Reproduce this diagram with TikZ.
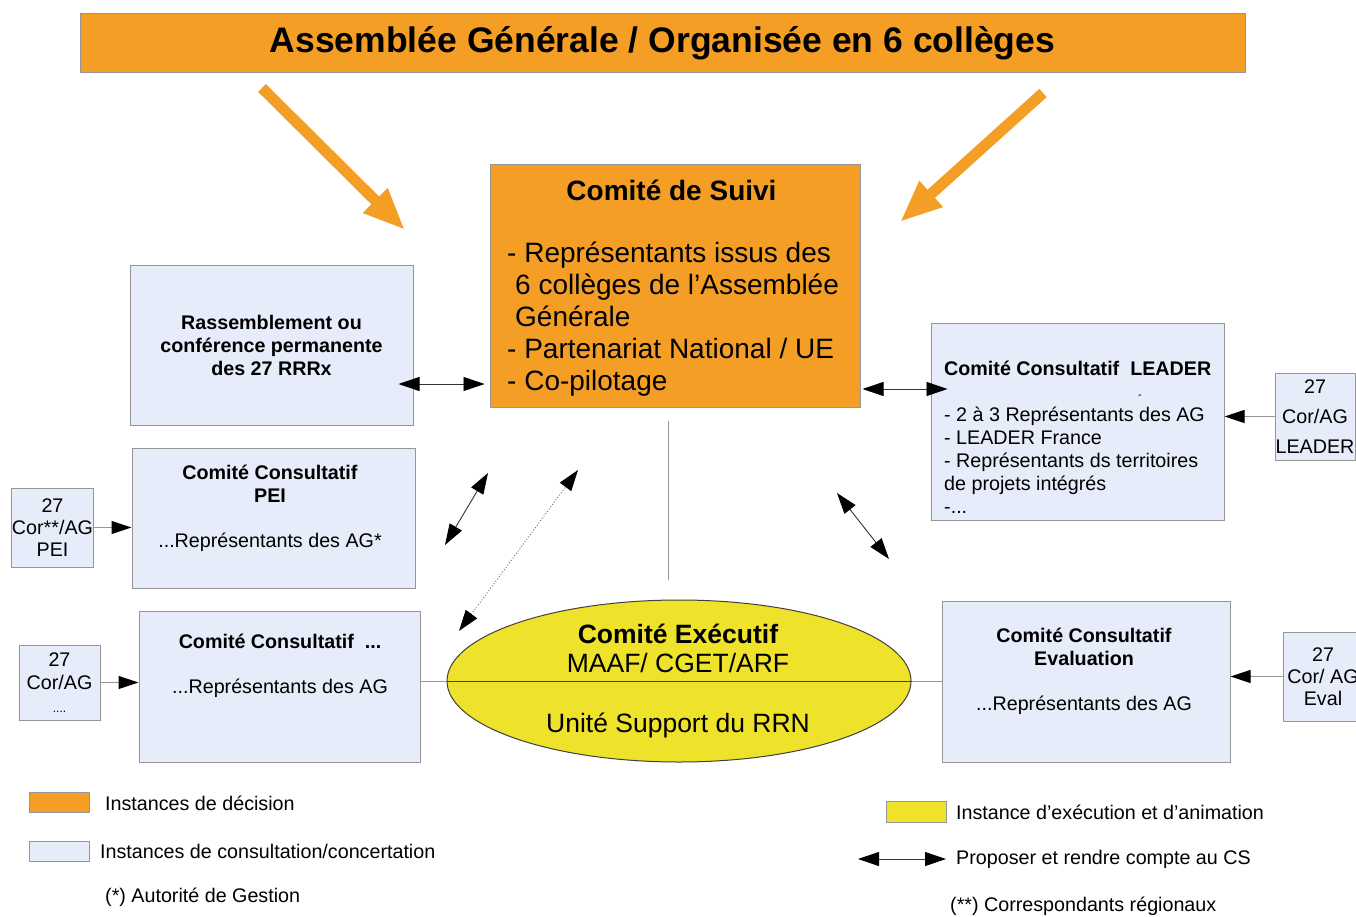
\documentclass[tikz,border=0pt]{standalone}
\usepackage{fontspec}
\setmainfont{Liberation Sans}
\usetikzlibrary{positioning, arrows.meta, calc, shapes.geometric}

\definecolor{orangeAG}{RGB}{245,158,38}
\definecolor{bleuCC}{RGB}{231,236,250}
\definecolor{jauneCE}{RGB}{238,226,42}
\definecolor{grisBord}{RGB}{150,150,150}

\tikzset{
  decision/.style={draw=grisBord, fill=orangeAG, line width=1pt},
  consult/.style={draw=grisBord, fill=bleuCC, line width=1pt},
  txt/.style={font=\fontsize{19.7}{23}\selectfont, inner sep=0pt},
  corbox/.style={consult, txt, align=center, minimum width=81pt},
  grosfleche/.style={draw=orangeAG, line width=11pt, -{Triangle[length=42pt, width=32pt]}},
  echange/.style={draw=black!80, line width=0.9pt, {Triangle[length=21pt, width=14pt, color=black]}-{Triangle[length=21pt, width=14pt, color=black]}},
  envoi/.style={draw=grisBord, line width=1pt, -{Triangle[length=20pt, width=13pt, color=black]}},
  trait/.style={draw=grisBord, line width=1pt},
}

\begin{document}
\begin{tikzpicture}[x=1pt, y=-1pt]
    \useasboundingbox (0,0) rectangle (1356,917);
    \fill[white] (0,0) rectangle (1356,917);

    \node[decision, minimum width=1165pt, minimum height=59pt, font=\fontsize{35.5}{40}\selectfont\bfseries] (ag) at (662.5,43.5) {Assemblée Générale / Organisée en 6 collèges};

    \node[decision, minimum width=370pt, minimum height=242pt] (cs) at (675,286) {};
    \node[txt, font=\fontsize{28}{32}\selectfont\bfseries] (cs-titre) at (671.5,190) {Comité de Suivi};
    \node[txt, font=\fontsize{28}{32}\selectfont, align=left, anchor=west] (cs-liste) at (507,319) {- Représentants issus des\\\hspace*{8pt}6 collèges de l’Assemblée\\\hspace*{8pt}Générale\\- Partenariat National / UE\\- Co-pilotage};

    \coordinate (ag-g) at (262,88);
    \coordinate (cs-g) at (405,230);
    \coordinate (ag-d) at (1043,93);
    \coordinate (cs-d) at (900,222);
    \draw[grosfleche] (ag-g) -- (cs-g);
    \draw[grosfleche] (ag-d) -- (cs-d);

    \node[consult, txt, align=center, minimum width=283pt, minimum height=160pt, font=\fontsize{19.7}{23}\selectfont\bfseries] (rrr) at (271.5,345) {Rassemblement ou\\conférence permanente\\des 27 RRRx};

    \node[consult, minimum width=283pt, minimum height=140pt] (pei) at (273.5,518) {};
    \node[txt, align=center] (pei-t) at (270,508) {\textbf{Comité Consultatif}\\\textbf{PEI}\\[22pt]...Représentants des AG*};

    \node[consult, minimum width=281pt, minimum height=151pt] (cca) at (279.5,686.5) {};
    \node[txt, align=center] (cca-t) at (280,665.5) {\textbf{Comité Consultatif\ \ ...}\\[22pt]...Représentants des AG};

    \node[consult, minimum width=293pt, minimum height=197pt] (leader) at (1077.5,421.5) {};
    \node[txt, align=left, anchor=west] (leader-t) at (944,437) {\textbf{Comité Consultatif\ \ LEADER}\\\hspace*{194pt}{\fontsize{11}{23}\selectfont -}\\- 2 à 3 Représentants des AG\\- LEADER France\\- Représentants ds territoires\\de projets intégrés\\-...};

    \node[consult, minimum width=288pt, minimum height=161pt] (eval) at (1086,681.5) {};
    \node[txt, align=center] (eval-t) at (1084,671) {\textbf{Comité Consultatif}\\\textbf{Evaluation}\\[22pt]...Représentants des AG};

    \draw[trait] (cca.east |- 0,681) -- (eval.west |- 0,681);
    \node[ellipse, draw=black!75, fill=jauneCE, line width=1pt, minimum width=464pt, minimum height=162pt] (exec) at (679,681) {};
    \draw[draw=black!75, line width=1pt] (exec.west) -- (exec.east);
    \node[txt, align=center, font=\fontsize{26.5}{29}\selectfont] (exec-t) at (678,681.5) {\textbf{Comité Exécutif}\\MAAF/ CGET/ARF\\[31pt]Unité Support du RRN};

    \draw[trait] ($(cs.south)+(-7,13)$) -- ($(exec.north)+(-11,-20)$);

    \draw[echange] ($(rrr.east)+(-15,39)$) -- ($(cs.west)+(-5,98)$);
    \draw[echange] ($(cs.east)+(2,103)$) -- ($(leader.west)+(17,-32.5)$);

    \coordinate (pei-b) at (445,545);
    \coordinate (pei-h) at (488,473);
    \coordinate (cca-b) at (459,631);
    \coordinate (cca-h) at (578,470);
    \coordinate (eval-h) at (837,493);
    \coordinate (eval-b) at (889,559);
    \draw[echange] (pei-b) -- (pei-h);
    \draw[echange, dotted, draw=black!60] (cca-b) -- (cca-h);
    \draw[echange] (eval-h) -- (eval-b);

    \node[corbox, minimum height=79pt, font=\fontsize{19.7}{22}\selectfont] (corpei) at (52.5,527.5) {27\\Cor**/AG\\PEI};
    \node[corbox, minimum height=75pt, font=\fontsize{19.7}{23}\selectfont] (cora) at (59.5,682.5) {27\\Cor/AG\\{\fontsize{12}{23}\selectfont ....}};
    \node[corbox, minimum width=80pt, minimum height=87pt, font=\fontsize{19.7}{30}\selectfont] (corleader) at (1315,416.5) {27\\Cor/AG\\LEADER};
    \node[corbox, minimum width=80pt, minimum height=89pt, font=\fontsize{19.7}{22}\selectfont] (coreval) at (1323,676.5) {27\\Cor/ AG\\Eval};

    \draw[envoi] (corpei.east) -- (corpei.east -| pei.west);
    \draw[envoi] (cora.east) -- (cora.east -| cca.west);
    \draw[envoi] (corleader.west) -- (corleader.west -| leader.east);
    \draw[envoi] (coreval.west) -- (coreval.west -| eval.east);

    \node[decision, minimum width=60pt, minimum height=20pt] (leg-dec) at (59,802) {};
    \node[txt, anchor=west] (leg-dec-t) at (105,803) {Instances de décision};
    \node[consult, minimum width=60pt, minimum height=20pt] (leg-cons) at (59,851) {};
    \node[txt, anchor=west] (leg-cons-t) at (100,851) {Instances de consultation/concertation};
    \node[txt, anchor=west] (leg-ag) at (105,897) {(*) Autorité de Gestion};

    \node[draw=grisBord, fill=jauneCE, line width=1pt, minimum width=60pt, minimum height=21pt] (leg-exe) at (916,811.5) {};
    \node[txt, anchor=west] (leg-exe-t) at (956,812) {Instance d’exécution et d’animation};
    \node[txt, anchor=west] (leg-cs) at (956,859) {Proposer et rendre compte au CS};
    \coordinate (leg-g) at (858,859);
    \coordinate (leg-d) at (946,859);
    \draw[echange] (leg-g) -- (leg-d);
    \node[txt, anchor=west] (leg-cor) at (950,906) {(**) Correspondants régionaux};
\end{tikzpicture}
\end{document}
